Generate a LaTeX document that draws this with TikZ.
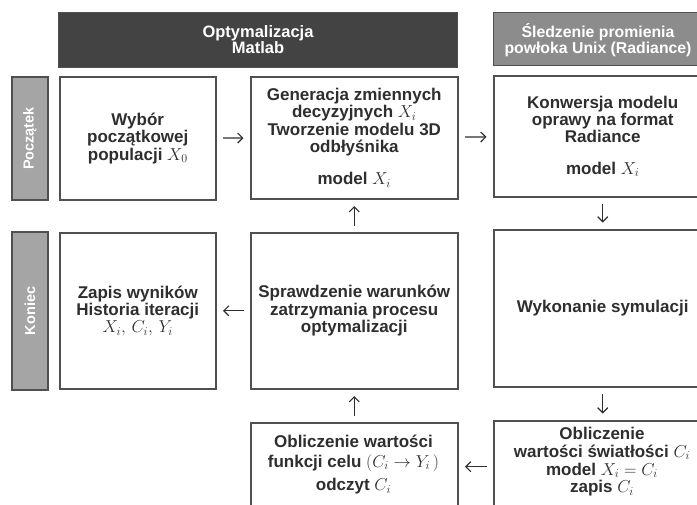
\documentclass[tikz,border=0pt]{standalone}
\usepackage{fontspec}
\setmainfont{Liberation Sans}
\usetikzlibrary{arrows.meta}
\definecolor{ink}{HTML}{2E2E2E}
\definecolor{edge}{HTML}{505050}
\definecolor{darkhead}{HTML}{434343}
\definecolor{midhead}{HTML}{8C8C8C}
\definecolor{sidebar}{HTML}{A5A5A5}
\begin{document}
\begin{tikzpicture}[x=1pt,y=-1pt,
  box/.style={draw=edge, line width=1.5pt, fill=white, rectangle, inner sep=0pt,
    text=ink, font=\bfseries\fontsize{17}{17.3}\selectfont, align=center, anchor=north west},
  txt/.style={inner sep=0pt, text=ink, font=\bfseries\fontsize{17}{19.5}\selectfont, align=center},
  head/.style={draw=edge, line width=1pt, rectangle, inner sep=0pt, text=white,
    font=\bfseries\fontsize{16.5}{16}\selectfont, align=center, anchor=north west},
  side/.style={draw=edge, line width=1.5pt, fill=sidebar, rectangle, inner sep=0pt, text=white,
    font=\bfseries\fontsize{14.5}{15}\selectfont, rotate=90, minimum height=36pt},
  arr/.style={-{Straight Barb[length=5pt,width=10pt]}, line width=1.2pt, draw=ink,
    shorten >=6.5pt, shorten <=6.5pt}]
\useasboundingbox (0,0) rectangle (697,504);
\clip (0,0) rectangle (697,504);

% headers
\node[head, fill=darkhead, minimum width=399pt, minimum height=55pt] (hd1) at (58,12)
  {Optymalizacja\\Matlab};
\node[head, fill=midhead, minimum width=218pt, minimum height=53pt] (hd2) at (493,12) {};
\node[inner sep=0pt, text=white, font=\bfseries\fontsize{15.8}{16}\selectfont, align=center]
  (hd2t) at (598,40) {Śledzenie promienia\\powłoka Unix (Radiance)};

% side bars
\node[side, minimum width=123pt] (s1) at (30,138.5) {Początek};
\node[side, minimum width=158pt] (s2) at (30,311) {Koniec};

% boxes
\node[box, minimum width=156pt, minimum height=123pt] (A) at (59,76)
  {Wybór\\początkowej\\populacji $X_0$};
\node[box, minimum width=207pt, minimum height=122pt] (B) at (250,76)
  {Generacja zmiennych\\decyzyjnych $X_i$\\Tworzenie modelu 3D\\odbłyśnika\\[15pt]model $X_i$};
\node[box, minimum width=218pt, minimum height=121pt] (C) at (493,75)
  {Konwersja modelu\\oprawy na format\\Radiance\\[14pt]model $X_i$};
\node[box, minimum width=156pt, minimum height=156pt] (D) at (59,232)
  {Zapis wyników\\Historia iteracji\\{\mdseries $X_i,\,C_i,\,Y_i$}};
\node[box, minimum width=207pt, minimum height=156pt] (E) at (250,232)
  {Sprawdzenie warunków\\zatrzymania procesu\\optymalizacji};
\node[box, minimum width=218pt, minimum height=157pt] (F) at (493,229)
  {Wykonanie symulacji};
\node[box, minimum width=207pt, minimum height=130pt] (G) at (250,422) {};
\node[box, minimum width=218pt, minimum height=130pt] (H) at (493,420) {};
\node[txt, anchor=north] (Gt) at (353.5,435)
  {Obliczenie wartości\\funkcji celu $(C_i \rightarrow Y_i\,)$\\[4pt]odczyt $C_i$};
\node[txt, anchor=north, font=\bfseries\fontsize{17}{17.8}\selectfont] (Ht) at (602,427)
  {Obliczenie\\wartości światłości $C_i$\\model $X_i = C_i$\\zapis $C_i$};

% connectors
\draw[arr] (A) -- (B);
\draw[arr] (B) -- (C);
\draw[arr] (C) -- (F);
\draw[arr] (F) -- (H.north);
\draw[arr] ([yshift=-2pt]H.west |- Gt.center) -- ([yshift=-2pt]G.east |- Gt.center);
\draw[arr] (G.north) -- (E);
\draw[arr] (E) -- (D);
\draw[arr] (E) -- (B);
\end{tikzpicture}
\end{document}
